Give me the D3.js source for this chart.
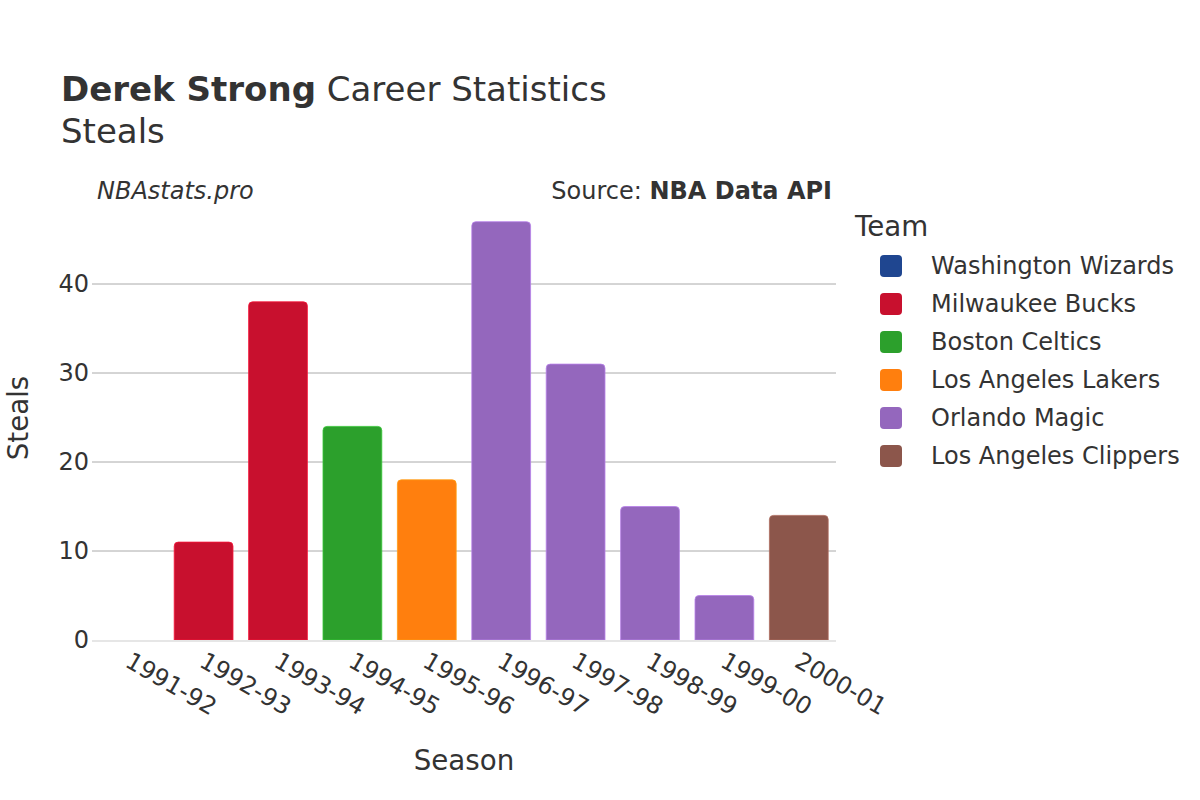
<!DOCTYPE html>
<html><head><meta charset="utf-8">
<script src="https://cdn.jsdelivr.net/npm/d3@7"></script>
<style>body{margin:0;background:#fff}text{font-family:"DejaVu Sans",sans-serif;fill:#333}</style>
</head><body><svg id="c" width="1200" height="800"></svg>
<script>
const seasons = ["1991-92","1992-93","1993-94","1994-95","1995-96","1996-97","1997-98","1998-99","1999-00","2000-01"];
const steals = [0,11,38,24,18,47,31,15,5,14];
const seasonTeams = ["Washington Wizards","Milwaukee Bucks","Milwaukee Bucks","Boston Celtics","Los Angeles Lakers","Orlando Magic","Orlando Magic","Orlando Magic","Orlando Magic","Los Angeles Clippers"];
const teams = ["Washington Wizards","Milwaukee Bucks","Boston Celtics","Los Angeles Lakers","Orlando Magic","Los Angeles Clippers"];
const teamColors = ["#1f4690","#c8102e","#2ca02c","#ff7f0e","#9467bd","#8c564b"];
const yTicks = [0,10,20,30,40];

const svg = d3.select("#c");
const pL = 92, pR = 836, pT = 180, pB = 640;
const x = d3.scaleBand().domain(seasons).range([pL, pR]).paddingInner(0.21).paddingOuter(0.105);
const y = d3.scaleLinear().domain([0, 40]).range([pB, 284]);
const color = d3.scaleOrdinal().domain(teams).range(teamColors);

// gridlines
svg.append("g").selectAll("line").data(yTicks.filter(d => d > 0)).join("line")
  .attr("x1", pL).attr("x2", pR).attr("y1", d => y(d)).attr("y2", d => y(d))
  .attr("stroke", "#aaa").attr("stroke-width", 1);

// y tick labels
svg.append("g").selectAll("text").data(yTicks).join("text")
  .attr("x", pL - 3).attr("y", d => y(d)).attr("dy", "0.35em")
  .attr("text-anchor", "end").attr("font-size", 24).text(d => d);

// bars with rounded top
const r = 4;
function barPath(d, i) {
  const x0 = x(seasons[i]), w = x.bandwidth(), y0 = y(0), y1 = y(d);
  const h = y0 - y1;
  if (h <= 0) return "";
  const rr = Math.min(r, h);
  return `M${x0},${y0}V${y1 + rr}Q${x0},${y1} ${x0 + rr},${y1}H${x0 + w - rr}Q${x0 + w},${y1} ${x0 + w},${y1 + rr}V${y0}Z`;
}
svg.append("g").selectAll("path").data(steals).join("path")
  .attr("d", (d, i) => barPath(d, i))
  .attr("fill", (d, i) => color(seasonTeams[i]))
  .attr("stroke", (d, i) => d3.color(color(seasonTeams[i])).brighter(0.6))
  .attr("stroke-width", 0.8);

// zero line
svg.append("line").attr("x1", pL).attr("x2", pR).attr("y1", y(0) + 1).attr("y2", y(0) + 1)
  .attr("stroke", "#e6e6e6").attr("stroke-width", 2);

// x tick labels
svg.append("g").selectAll("text").data(seasons).join("text")
  .attr("transform", d => `translate(${x(d) + x.bandwidth() / 2 + 3},${pB + 11}) rotate(30)`)
  .attr("dy", "0.71em").attr("font-size", 24).attr("text-anchor", "start").text(d => d);

// axis titles
svg.append("text").attr("x", (pL + pR) / 2).attr("y", 770).attr("text-anchor", "middle")
  .attr("font-size", 27.7).text("Season");
svg.append("text").attr("transform", `translate(28,${(pT + pB) / 2 + 8}) rotate(-90)`)
  .attr("text-anchor", "middle").attr("font-size", 27.7).text("Steals");

// titles
const t = svg.append("text").attr("x", 61).attr("y", 101).attr("font-size", 34);
t.append("tspan").attr("font-weight", "bold").text("Derek Strong");
t.append("tspan").text(" Career Statistics");
svg.append("text").attr("x", 61).attr("y", 143).attr("font-size", 34).text("Steals");

svg.append("text").attr("x", 97).attr("y", 199).attr("font-size", 24).attr("font-style", "italic").text("NBAstats.pro");
const s = svg.append("text").attr("x", 832).attr("y", 199).attr("font-size", 24).attr("text-anchor", "end");
s.append("tspan").text("Source: ");
s.append("tspan").attr("font-weight", "bold").text("NBA Data API");

// legend
svg.append("text").attr("x", 855).attr("y", 236).attr("font-size", 27.7).text("Team");
const lg = svg.append("g").selectAll("g").data(teams).join("g")
  .attr("transform", (d, i) => `translate(0,${266 + i * 38})`);
lg.append("rect").attr("x", 880).attr("y", -11).attr("width", 22).attr("height", 22).attr("rx", 4)
  .attr("fill", d => color(d));
lg.append("text").attr("x", 931).attr("dy", "0.35em").attr("font-size", 24).text(d => d);
</script></body></html>
